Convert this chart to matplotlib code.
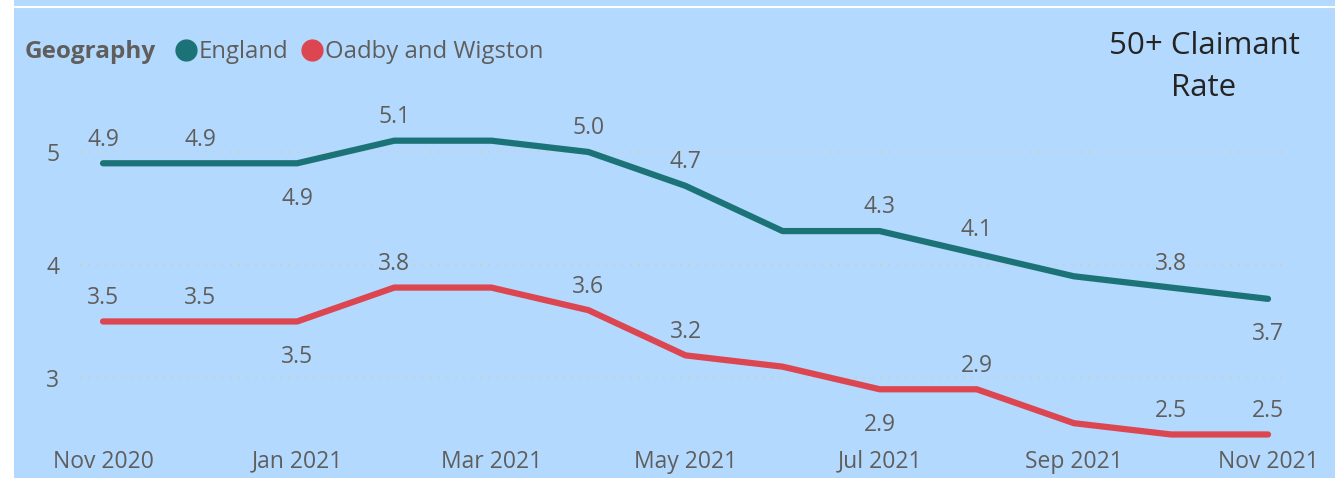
import matplotlib.pyplot as plt
from matplotlib.lines import Line2D

# months on the x axis
months = ["Nov 2020", "Dec 2020", "Jan 2021", "Feb 2021", "Mar 2021", "Apr 2021",
          "May 2021", "Jun 2021", "Jul 2021", "Aug 2021", "Sep 2021", "Oct 2021", "Nov 2021"]
england = [4.9, 4.9, 4.9, 5.1, 5.1, 5.0, 4.7, 4.3, 4.3, 4.1, 3.9, 3.8, 3.7]
oadby = [3.5, 3.5, 3.5, 3.8, 3.8, 3.6, 3.2, 3.1, 2.9, 2.9, 2.6, 2.5, 2.5]
tick_labels = ["Nov 2020", "Jan 2021", "Mar 2021", "May 2021", "Jul 2021", "Sep 2021", "Nov 2021"]

# where the data labels sit: 'a' above, 'b' below, None = no label
england_lab = ['a', 'a', 'b', 'a', None, 'a', 'a', None, 'a', 'a', None, 'a', 'b']
oadby_lab = ['a', 'a', 'b', 'a', None, 'a', 'a', None, 'b', 'a', None, 'a', 'a']

bg = '#b3dafe'
grey = '#605e5c'
teal = '#1c7377'
red = '#dc4650'
font = 'Open Sans'

W, H = 1335, 478
fig = plt.figure(figsize=(W / 100, H / 100), dpi=100, facecolor=bg)
# white frame bits at left and top
fig.patches.append(plt.Rectangle((0, 0), 14 / W, 1, transform=fig.transFigure,
                                 facecolor='white', edgecolor='none'))
fig.lines.append(Line2D([14 / W, 1], [1 - 7 / H, 1 - 7 / H], transform=fig.transFigure,
                        color='white', lw=1.5))

left, right, top, bottom = 80, 1285, 100, 440
ax = fig.add_axes([left / W, 1 - bottom / H, (right - left) / W, (bottom - top) / H])
ax.set_facecolor(bg)

x = list(range(len(months)))
ax.plot(x, england, color=teal, lw=4.5, solid_capstyle='round', solid_joinstyle='round')
ax.plot(x, oadby, color=red, lw=4.5, solid_capstyle='round', solid_joinstyle='round')

for vals, labs in [(england, england_lab), (oadby, oadby_lab)]:
    for i, (v, l) in enumerate(zip(vals, labs)):
        if l is None:
            continue
        dy = 17 if l == 'a' else -25.5
        ax.annotate(f"{v:.1f}", (i, v), xytext=(0, dy), textcoords='offset points',
                    ha='center', va='center', fontsize=16.5, color=grey, family=font)

ax.set_xlim(-0.237, 12.175)
ax.set_ylim(2.451, 5.46)
ax.set_xticks(range(0, 13, 2))
ax.set_xticklabels(tick_labels)
ax.set_yticks([3, 4, 5])
ax.set_yticklabels(['3', '4', '5'])
ax.tick_params(length=0, labelsize=16.5, labelcolor=grey)
ax.tick_params(axis='x', pad=7)
ax.tick_params(axis='y', pad=15)
for lab in ax.get_xticklabels() + ax.get_yticklabels():
    lab.set_family(font)
ax.grid(axis='y', color='#d6cbb8', linestyle=(0, (1, 4)), lw=1.2)
for s in ax.spines.values():
    s.set_visible(False)

# legend drawn as text + markers
fig.text(25 / W, 1 - 52 / H, "Geography", fontsize=17.5, fontweight='bold', color=grey,
         family=font, va='center')
fig.lines.append(Line2D([186 / W], [1 - 50 / H], marker='o', ms=15, color=teal,
                        transform=fig.transFigure))
fig.text(199 / W, 1 - 52 / H, "England", fontsize=17.2, color=grey, family=font, va='center')
fig.lines.append(Line2D([312 / W], [1 - 50 / H], marker='o', ms=15, color=red,
                        transform=fig.transFigure))
fig.text(325 / W, 1 - 52 / H, "Oadby and Wigston", fontsize=17.2, color=grey, family=font,
         va='center')

fig.text(1204 / W, 1 - 67 / H, "50+ Claimant\nRate", fontsize=22.5, color='#252423',
         family=font, ha='center', va='center', linespacing=1.5)

fig.savefig('out.png', dpi=100, facecolor=bg)
